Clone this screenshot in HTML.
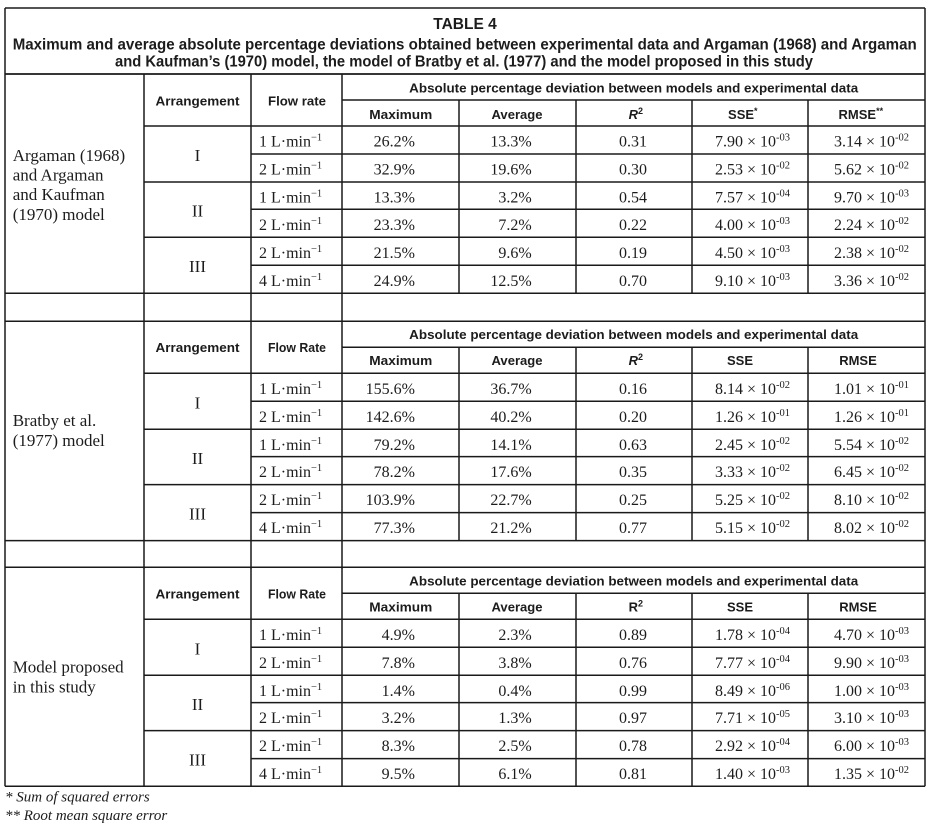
<!DOCTYPE html>
<html><head><meta charset="utf-8"><style>
html,body{margin:0;padding:0;background:#fff;}
svg{display:block;}
.s{font-family:"Liberation Serif",serif;font-size:16px;fill:#1c1c1c;}
.n{font-family:"Liberation Serif",serif;font-size:17px;fill:#1c1c1c;}
.h{font-family:"Liberation Sans",sans-serif;font-weight:bold;font-size:13px;fill:#1c1c1c;}
.ti{font-family:"Liberation Sans",sans-serif;font-weight:bold;font-size:15.5px;fill:#1c1c1c;}
.f{font-family:"Liberation Serif",serif;font-style:italic;font-size:15px;fill:#1c1c1c;}
.c{text-anchor:middle;}
.e{text-anchor:end;}
.ln{stroke:#1a1a1a;stroke-width:1.5;fill:none;}
</style></head><body>
<svg width="941" height="831" viewBox="0 0 941 831" xmlns="http://www.w3.org/2000/svg">
<rect width="941" height="831" fill="#fff"/>
<path class="ln" d="M5 8H925 M5 8V786.3 M925 8V786.3 M5 74H925"/>
<text class="ti c" x="465" y="29">TABLE 4</text>
<text class="ti" x="12.7" y="49.3" textLength="904" lengthAdjust="spacingAndGlyphs">Maximum and average absolute percentage deviations obtained between experimental data and Argaman (1968) and Argaman</text>
<text class="ti" x="115" y="66.7" textLength="698" lengthAdjust="spacingAndGlyphs">and Kaufman’s (1970) model, the model of Bratby et al. (1977) and the model proposed in this study</text>

<!-- Section 1 -->
<g transform="translate(0,74)">
<path class="ln" d="M5 0H925 M342 26H925 M144 52H925 M251 80H925 M144 108H925 M251 135.3H925 M144 163.3H925 M251 191.3H925 M5 219.3H925 M144 0V247.3 M251 0V247.3 M342 0V247.3 M459 26V219.3 M576 26V219.3 M692 26V219.3 M808 26V219.3"/>
<text class="h c" x="197.5" y="31.5" textLength="84" lengthAdjust="spacingAndGlyphs">Arrangement</text>
<text class="h c" x="297" y="31.5" textLength="58" lengthAdjust="spacingAndGlyphs">Flow rate</text>
<text class="h c" x="633.7" y="18.5" textLength="449" lengthAdjust="spacingAndGlyphs">Absolute percentage deviation between models and experimental data</text>
<text class="h c" x="400.8" y="45" textLength="63" lengthAdjust="spacingAndGlyphs">Maximum</text>
<text class="h c" x="517" y="45" textLength="51" lengthAdjust="spacingAndGlyphs">Average</text>
<text class="h c" x="635.8" y="45"><tspan font-style="italic">R</tspan><tspan dy="-5" font-size="9">2</tspan></text>
<text class="h c" x="742.8" y="45">SSE<tspan dy="-5" font-size="9">*</tspan></text>
<text class="h c" x="860.8" y="45">RMSE<tspan dy="-5" font-size="9">**</tspan></text>
<text class="n" x="12.7" y="87">Argaman (1968)</text>
<text class="n" x="12.7" y="106.5">and Argaman</text>
<text class="n" x="12.7" y="126">and Kaufman</text>
<text class="n" x="12.7" y="146">(1970) model</text>
<text class="n c" x="197.5" y="87">I</text>
<text class="n c" x="197.5" y="142.5">II</text>
<text class="n c" x="197.5" y="198">III</text>
<g class="s">
<text x="259" y="72.5">1 L·min<tspan dy="-6" font-size="10.5">−1</tspan></text>
<text x="259" y="100.5">2 L·min<tspan dy="-6" font-size="10.5">−1</tspan></text>
<text x="259" y="128.5">1 L·min<tspan dy="-6" font-size="10.5">−1</tspan></text>
<text x="259" y="155.8">2 L·min<tspan dy="-6" font-size="10.5">−1</tspan></text>
<text x="259" y="183.8">2 L·min<tspan dy="-6" font-size="10.5">−1</tspan></text>
<text x="259" y="211.8">4 L·min<tspan dy="-6" font-size="10.5">−1</tspan></text>
<text class="e" x="415" y="72.5">26.2%</text>
<text class="e" x="415" y="100.5">32.9%</text>
<text class="e" x="415" y="128.5">13.3%</text>
<text class="e" x="415" y="155.8">23.3%</text>
<text class="e" x="415" y="183.8">21.5%</text>
<text class="e" x="415" y="211.8">24.9%</text>
<text class="e" x="531.7" y="72.5">13.3%</text>
<text class="e" x="531.7" y="100.5">19.6%</text>
<text class="e" x="531.7" y="128.5">3.2%</text>
<text class="e" x="531.7" y="155.8">7.2%</text>
<text class="e" x="531.7" y="183.8">9.6%</text>
<text class="e" x="531.7" y="211.8">12.5%</text>
<text class="c" x="633" y="72.5">0.31</text>
<text class="c" x="633" y="100.5">0.30</text>
<text class="c" x="633" y="128.5">0.54</text>
<text class="c" x="633" y="155.8">0.22</text>
<text class="c" x="633" y="183.8">0.19</text>
<text class="c" x="633" y="211.8">0.70</text>
<text x="715" y="72.5">7.90 × 10<tspan dy="-6" font-size="10.5">-03</tspan></text>
<text x="715" y="100.5">2.53 × 10<tspan dy="-6" font-size="10.5">-02</tspan></text>
<text x="715" y="128.5">7.57 × 10<tspan dy="-6" font-size="10.5">-04</tspan></text>
<text x="715" y="155.8">4.00 × 10<tspan dy="-6" font-size="10.5">-03</tspan></text>
<text x="715" y="183.8">4.50 × 10<tspan dy="-6" font-size="10.5">-03</tspan></text>
<text x="715" y="211.8">9.10 × 10<tspan dy="-6" font-size="10.5">-03</tspan></text>
<text x="834" y="72.5">3.14 × 10<tspan dy="-6" font-size="10.5">-02</tspan></text>
<text x="834" y="100.5">5.62 × 10<tspan dy="-6" font-size="10.5">-02</tspan></text>
<text x="834" y="128.5">9.70 × 10<tspan dy="-6" font-size="10.5">-03</tspan></text>
<text x="834" y="155.8">2.24 × 10<tspan dy="-6" font-size="10.5">-02</tspan></text>
<text x="834" y="183.8">2.38 × 10<tspan dy="-6" font-size="10.5">-02</tspan></text>
<text x="834" y="211.8">3.36 × 10<tspan dy="-6" font-size="10.5">-02</tspan></text>
</g>
</g>

<!-- Section 2 -->
<g transform="translate(0,321.3)">
<path class="ln" d="M5 0H925 M342 26H925 M144 52H925 M251 80H925 M144 108H925 M251 135.3H925 M144 163.3H925 M251 191.3H925 M5 219.3H925 M144 0V247.3 M251 0V247.3 M342 0V247.3 M459 26V219.3 M576 26V219.3 M692 26V219.3 M808 26V219.3"/>
<text class="h c" x="197.5" y="30.5" textLength="84" lengthAdjust="spacingAndGlyphs">Arrangement</text>
<text class="h c" x="297" y="30.5" textLength="58" lengthAdjust="spacingAndGlyphs">Flow Rate</text>
<text class="h c" x="633.7" y="17.5" textLength="449" lengthAdjust="spacingAndGlyphs">Absolute percentage deviation between models and experimental data</text>
<text class="h c" x="400.8" y="43.5" textLength="63" lengthAdjust="spacingAndGlyphs">Maximum</text>
<text class="h c" x="517" y="43.5" textLength="51" lengthAdjust="spacingAndGlyphs">Average</text>
<text class="h c" x="635.8" y="43.5"><tspan font-style="italic">R</tspan><tspan dy="-5" font-size="9">2</tspan></text>
<text class="h c" x="740" y="43.5">SSE</text>
<text class="h c" x="858" y="43.5">RMSE</text>
<text class="n" x="12.7" y="104.7">Bratby et al.</text>
<text class="n" x="12.7" y="124.7">(1977) model</text>
<text class="n c" x="197.5" y="87">I</text>
<text class="n c" x="197.5" y="142.5">II</text>
<text class="n c" x="197.5" y="198">III</text>
<g class="s">
<text x="259" y="72.5">1 L·min<tspan dy="-6" font-size="10.5">−1</tspan></text>
<text x="259" y="100.5">2 L·min<tspan dy="-6" font-size="10.5">−1</tspan></text>
<text x="259" y="128.5">1 L·min<tspan dy="-6" font-size="10.5">−1</tspan></text>
<text x="259" y="155.8">2 L·min<tspan dy="-6" font-size="10.5">−1</tspan></text>
<text x="259" y="183.8">2 L·min<tspan dy="-6" font-size="10.5">−1</tspan></text>
<text x="259" y="211.8">4 L·min<tspan dy="-6" font-size="10.5">−1</tspan></text>
<text class="e" x="415" y="72.5">155.6%</text>
<text class="e" x="415" y="100.5">142.6%</text>
<text class="e" x="415" y="128.5">79.2%</text>
<text class="e" x="415" y="155.8">78.2%</text>
<text class="e" x="415" y="183.8">103.9%</text>
<text class="e" x="415" y="211.8">77.3%</text>
<text class="e" x="531.7" y="72.5">36.7%</text>
<text class="e" x="531.7" y="100.5">40.2%</text>
<text class="e" x="531.7" y="128.5">14.1%</text>
<text class="e" x="531.7" y="155.8">17.6%</text>
<text class="e" x="531.7" y="183.8">22.7%</text>
<text class="e" x="531.7" y="211.8">21.2%</text>
<text class="c" x="633" y="72.5">0.16</text>
<text class="c" x="633" y="100.5">0.20</text>
<text class="c" x="633" y="128.5">0.63</text>
<text class="c" x="633" y="155.8">0.35</text>
<text class="c" x="633" y="183.8">0.25</text>
<text class="c" x="633" y="211.8">0.77</text>
<text x="715" y="72.5">8.14 × 10<tspan dy="-6" font-size="10.5">-02</tspan></text>
<text x="715" y="100.5">1.26 × 10<tspan dy="-6" font-size="10.5">-01</tspan></text>
<text x="715" y="128.5">2.45 × 10<tspan dy="-6" font-size="10.5">-02</tspan></text>
<text x="715" y="155.8">3.33 × 10<tspan dy="-6" font-size="10.5">-02</tspan></text>
<text x="715" y="183.8">5.25 × 10<tspan dy="-6" font-size="10.5">-02</tspan></text>
<text x="715" y="211.8">5.15 × 10<tspan dy="-6" font-size="10.5">-02</tspan></text>
<text x="834" y="72.5">1.01 × 10<tspan dy="-6" font-size="10.5">-01</tspan></text>
<text x="834" y="100.5">1.26 × 10<tspan dy="-6" font-size="10.5">-01</tspan></text>
<text x="834" y="128.5">5.54 × 10<tspan dy="-6" font-size="10.5">-02</tspan></text>
<text x="834" y="155.8">6.45 × 10<tspan dy="-6" font-size="10.5">-02</tspan></text>
<text x="834" y="183.8">8.10 × 10<tspan dy="-6" font-size="10.5">-02</tspan></text>
<text x="834" y="211.8">8.02 × 10<tspan dy="-6" font-size="10.5">-02</tspan></text>
</g>
</g>

<!-- Section 3 -->
<g transform="translate(0,567.3)">
<path class="ln" d="M5 0H925 M342 26H925 M144 52H925 M251 80H925 M144 108H925 M251 135.3H925 M144 163.3H925 M251 191.3H925 M5 219H925 M144 0V219 M251 0V219 M342 0V219 M459 26V219 M576 26V219 M692 26V219 M808 26V219"/>
<text class="h c" x="197.5" y="31" textLength="84" lengthAdjust="spacingAndGlyphs">Arrangement</text>
<text class="h c" x="297" y="31" textLength="58" lengthAdjust="spacingAndGlyphs">Flow Rate</text>
<text class="h c" x="633.7" y="18" textLength="449" lengthAdjust="spacingAndGlyphs">Absolute percentage deviation between models and experimental data</text>
<text class="h c" x="400.8" y="44.3" textLength="63" lengthAdjust="spacingAndGlyphs">Maximum</text>
<text class="h c" x="517" y="44.3" textLength="51" lengthAdjust="spacingAndGlyphs">Average</text>
<text class="h c" x="635.8" y="44.3">R<tspan dy="-5" font-size="9">2</tspan></text>
<text class="h c" x="740" y="44.3">SSE</text>
<text class="h c" x="858" y="44.3">RMSE</text>
<text class="n" x="12.7" y="105.4">Model proposed</text>
<text class="n" x="12.7" y="125.4">in this study</text>
<text class="n c" x="197.5" y="87">I</text>
<text class="n c" x="197.5" y="142.5">II</text>
<text class="n c" x="197.5" y="198">III</text>
<g class="s">
<text x="259" y="72.5">1 L·min<tspan dy="-6" font-size="10.5">−1</tspan></text>
<text x="259" y="100.5">2 L·min<tspan dy="-6" font-size="10.5">−1</tspan></text>
<text x="259" y="128.5">1 L·min<tspan dy="-6" font-size="10.5">−1</tspan></text>
<text x="259" y="155.8">2 L·min<tspan dy="-6" font-size="10.5">−1</tspan></text>
<text x="259" y="183.8">2 L·min<tspan dy="-6" font-size="10.5">−1</tspan></text>
<text x="259" y="211.8">4 L·min<tspan dy="-6" font-size="10.5">−1</tspan></text>
<text class="e" x="415" y="72.5">4.9%</text>
<text class="e" x="415" y="100.5">7.8%</text>
<text class="e" x="415" y="128.5">1.4%</text>
<text class="e" x="415" y="155.8">3.2%</text>
<text class="e" x="415" y="183.8">8.3%</text>
<text class="e" x="415" y="211.8">9.5%</text>
<text class="e" x="531.7" y="72.5">2.3%</text>
<text class="e" x="531.7" y="100.5">3.8%</text>
<text class="e" x="531.7" y="128.5">0.4%</text>
<text class="e" x="531.7" y="155.8">1.3%</text>
<text class="e" x="531.7" y="183.8">2.5%</text>
<text class="e" x="531.7" y="211.8">6.1%</text>
<text class="c" x="633" y="72.5">0.89</text>
<text class="c" x="633" y="100.5">0.76</text>
<text class="c" x="633" y="128.5">0.99</text>
<text class="c" x="633" y="155.8">0.97</text>
<text class="c" x="633" y="183.8">0.78</text>
<text class="c" x="633" y="211.8">0.81</text>
<text x="715" y="72.5">1.78 × 10<tspan dy="-6" font-size="10.5">-04</tspan></text>
<text x="715" y="100.5">7.77 × 10<tspan dy="-6" font-size="10.5">-04</tspan></text>
<text x="715" y="128.5">8.49 × 10<tspan dy="-6" font-size="10.5">-06</tspan></text>
<text x="715" y="155.8">7.71 × 10<tspan dy="-6" font-size="10.5">-05</tspan></text>
<text x="715" y="183.8">2.92 × 10<tspan dy="-6" font-size="10.5">-04</tspan></text>
<text x="715" y="211.8">1.40 × 10<tspan dy="-6" font-size="10.5">-03</tspan></text>
<text x="834" y="72.5">4.70 × 10<tspan dy="-6" font-size="10.5">-03</tspan></text>
<text x="834" y="100.5">9.90 × 10<tspan dy="-6" font-size="10.5">-03</tspan></text>
<text x="834" y="128.5">1.00 × 10<tspan dy="-6" font-size="10.5">-03</tspan></text>
<text x="834" y="155.8">3.10 × 10<tspan dy="-6" font-size="10.5">-03</tspan></text>
<text x="834" y="183.8">6.00 × 10<tspan dy="-6" font-size="10.5">-03</tspan></text>
<text x="834" y="211.8">1.35 × 10<tspan dy="-6" font-size="10.5">-02</tspan></text>
</g>
</g>

<text class="f" x="5" y="801.5">* Sum of squared errors</text>
<text class="f" x="5" y="820">** Root mean square error</text>
</svg>
</body></html>
